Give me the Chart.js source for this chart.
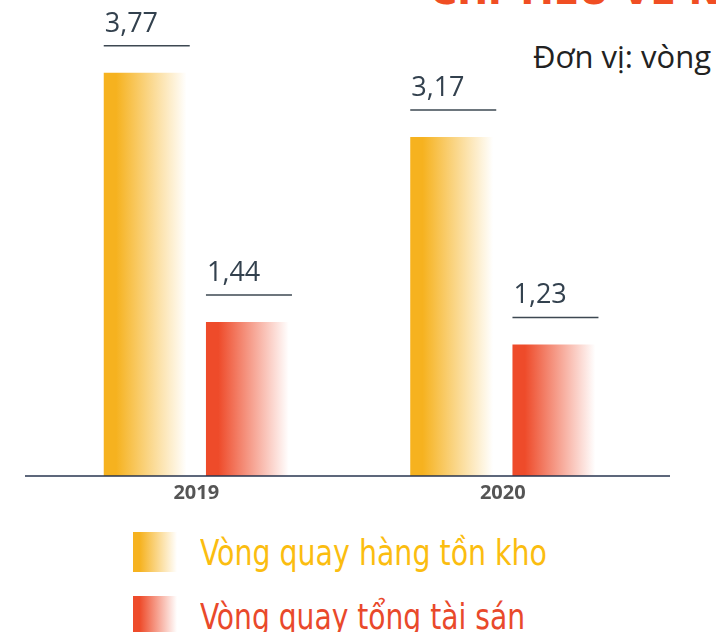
<!DOCTYPE html>
<html>
<head>
<meta charset="utf-8">
<script src="https://cdn.jsdelivr.net/npm/chart.js@4/dist/chart.umd.min.js"></script>
<style>
  body { margin: 0; width: 716px; height: 632px; overflow: hidden; background: #fff; position: relative; }
  #title { position: absolute; left: 430px; top: -30px; white-space: nowrap; font: bold 37px "DejaVu Sans", sans-serif; color: #f04e23; }
  #unit { position: absolute; left: 533px; top: 35px; white-space: nowrap; font: 31px "Open Sans", sans-serif; color: #222; }
  #wrap { position: absolute; left: 0; top: 0; }
  .leg { position: absolute; left: 133px; white-space: nowrap; }
  .leg span.box { position: absolute; left: 0; width: 44px; height: 40px; }
  .leg span.txt { position: absolute; left: 67px; top: 0px; font: 36px "DejaVu Sans Condensed", "DejaVu Sans", sans-serif; transform-origin: 0 0; }
</style>
</head>
<body>
<div id="title">CHỈ TIÊU VỀ NĂNG LỰC HOẠT ĐỘNG</div>
<div id="unit">Đơn vị: vòng</div>
<div id="wrap"><canvas id="chart" width="716" height="510"></canvas></div>
<div class="leg" style="top:532px"><span class="box" style="background:linear-gradient(90deg,#f6b21f 0%,#f6b21f 15%,#fff 100%)"></span><span class="txt" data-w="347" style="color:#fbbd10">Vòng quay hàng tồn kho</span></div>
<div class="leg" style="top:596px"><span class="box" style="background:linear-gradient(90deg,#ee4b2a 0%,#ee4b2a 15%,#fff 100%)"></span><span class="txt" data-w="325" style="color:#e9492b">Vòng quay tổng tài sán</span></div>
<script>
// years on the x axis
const years = ["2019", "2020"];
// turnover values (vòng)
const inventoryTurnover = [3.77, 3.17];
const assetTurnover = [1.44, 1.23];
const seriesNames = ["Vòng quay hàng tồn kho", "Vòng quay tổng tài sán"];
const seriesColors = ["#f6b21f", "#ee4b2a"];

// squeeze legend text to the narrow width of the original
document.querySelectorAll(".leg .txt").forEach(el => {
  let w = el.getBoundingClientRect().width;
  el.style.transform = "scaleX(" + (parseFloat(el.dataset.w) / w) + ")";
});

// paint each bar with a left-to-right fade to white
const fadeBars = {
  id: "fadeBars",
  beforeDatasetsDraw(chart) {
    const ctx = chart.ctx;
    chart.data.datasets.forEach((ds, i) => {
      chart.getDatasetMeta(i).data.forEach(bar => {
        let left = bar.x - bar.width / 2;
        let g = ctx.createLinearGradient(left, 0, left + bar.width, 0);
        g.addColorStop(0, seriesColors[i]);
        g.addColorStop(0.15, seriesColors[i]);
        g.addColorStop(1, "#ffffff");
        bar.options = Object.assign({}, bar.options, { backgroundColor: g });
      });
    });
  }
};

// value label with a rule under it, above each bar; plus the base line
const valueLabels = {
  id: "valueLabels",
  afterDatasetsDraw(chart) {
    const ctx = chart.ctx;
    ctx.save();
    let base = chart.chartArea.bottom;
    ctx.strokeStyle = "#27344f";
    ctx.lineWidth = 1.5;
    ctx.beginPath();
    ctx.moveTo(25, base);
    ctx.lineTo(670, base);
    ctx.stroke();
    chart.data.datasets.forEach((ds, i) => {
      chart.getDatasetMeta(i).data.forEach((bar, j) => {
        let left = bar.x - bar.width / 2;
        let lineY = bar.y - 27;
        ctx.strokeStyle = "#3d4852";
        ctx.lineWidth = 1.5;
        ctx.beginPath();
        ctx.moveTo(left, lineY);
        ctx.lineTo(left + 86, lineY);
        ctx.stroke();
        ctx.fillStyle = "#33414e";
        ctx.font = "27px 'Open Sans'";
        ctx.textAlign = "left";
        ctx.textBaseline = "alphabetic";
        ctx.fillText(ds.data[j].toFixed(2).replace(".", ","), left + 1, lineY - 14);
      });
    });
    ctx.restore();
  }
};

new Chart(document.getElementById("chart"), {
  type: "bar",
  data: {
    labels: years,
    datasets: [
      { label: seriesNames[0], data: inventoryTurnover, backgroundColor: seriesColors[0] },
      { label: seriesNames[1], data: assetTurnover, backgroundColor: seriesColors[1] }
    ]
  },
  options: {
    responsive: false,
    animation: false,
    layout: { padding: { left: 43, right: 60, top: 0, bottom: 0 } },
    datasets: { bar: { categoryPercentage: 0.667, barPercentage: 0.81 } },
    plugins: { legend: { display: false }, tooltip: { enabled: false } },
    scales: {
      x: {
        grid: { display: false, drawTicks: false },
        border: { display: false },
        ticks: { color: "#555", font: { family: "Open Sans", weight: "bold", size: 20 }, padding: 5 }
      },
      y: { display: false, min: 0, max: 4.45 }
    }
  },
  plugins: [fadeBars, valueLabels]
});
</script>
</body>
</html>
